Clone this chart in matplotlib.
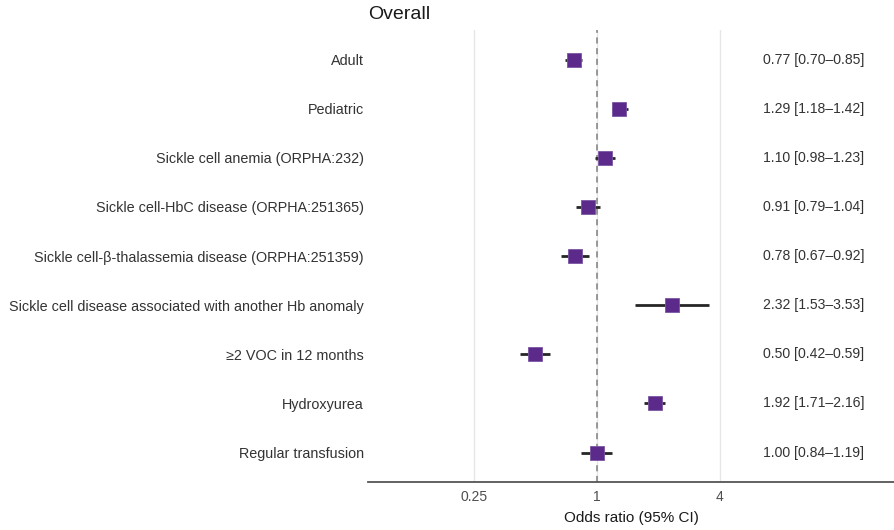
import matplotlib
matplotlib.use("Agg")
import matplotlib.pyplot as plt
import matplotlib.transforms as mtransforms
import numpy as np

plt.rcParams['font.family'] = ['Liberation Sans', 'DejaVu Sans']

labels = [
    "Adult",
    "Pediatric",
    "Sickle cell anemia (ORPHA:232)",
    "Sickle cell-HbC disease (ORPHA:251365)",
    "Sickle cell-\u03b2-thalassemia disease (ORPHA:251359)",
    "Sickle cell disease associated with another Hb anomaly",
    "\u22652 VOC in 12 months",
    "Hydroxyurea",
    "Regular transfusion",
]
odds = [0.77, 1.29, 1.10, 0.91, 0.78, 2.32, 0.50, 1.92, 1.00]
ci_low = [0.70, 1.18, 0.98, 0.79, 0.67, 1.53, 0.42, 1.71, 0.84]
ci_high = [0.85, 1.42, 1.23, 1.04, 0.92, 3.53, 0.59, 2.16, 1.19]
xticks = [0.25, 1, 4]
xtick_labels = ["0.25", "1", "4"]

fig = plt.figure(figsize=(8.94, 5.30), dpi=100)
ax = fig.add_axes([0.4116, 0.0906, 0.5884, 0.8524])

n = len(labels)
ypos = np.arange(n)[::-1] + 1

ax.set_xscale('log', base=2)
ax.set_xlim(0.076, 28.4)
ax.set_ylim(0.4, n + 0.6)

for xt in xticks:
    ax.axvline(xt, color='#e6e6e6', lw=1.0, zorder=0)
ax.axvline(1, color='#7f7f7f', lw=1.1, ls=(0, (4, 3)), zorder=1)

for y, o, lo, hi in zip(ypos, odds, ci_low, ci_high):
    ax.plot([lo, hi], [y, y], color='#262626', lw=2.0, solid_capstyle='butt', zorder=2)
    ax.plot([o], [y], marker='s', ms=9.5, color='#5c2a8a', mec='#7b55a3', mew=0.6, zorder=3)

trans = mtransforms.blended_transform_factory(ax.transAxes, ax.transData)
for y, o, lo, hi in zip(ypos, odds, ci_low, ci_high):
    ax.text(0.943, y, f"{o:.2f} [{lo:.2f}\u2013{hi:.2f}]", transform=trans,
            ha='right', va='center', fontsize=10.1, color='#333333')

ax.set_yticks(ypos)
ax.set_yticklabels(labels, fontsize=10.4, color='#333333')
ax.set_xticks(xticks)
ax.set_xticklabels(xtick_labels, fontsize=10, color='#4d4d4d')
ax.minorticks_off()
ax.tick_params(axis='both', length=0)
ax.tick_params(axis='y', pad=3)
ax.tick_params(axis='x', pad=6)

for s in ['top', 'right', 'left']:
    ax.spines[s].set_visible(False)
ax.spines['bottom'].set_color('#555555')
ax.spines['bottom'].set_linewidth(1.3)

ax.set_xlabel("Odds ratio (95% CI)", fontsize=11, color='#1a1a1a', labelpad=5)
ax.set_title("Overall", loc='left', fontsize=14, color='#1a1a1a', pad=8)

fig.savefig("out.png", dpi=100)
